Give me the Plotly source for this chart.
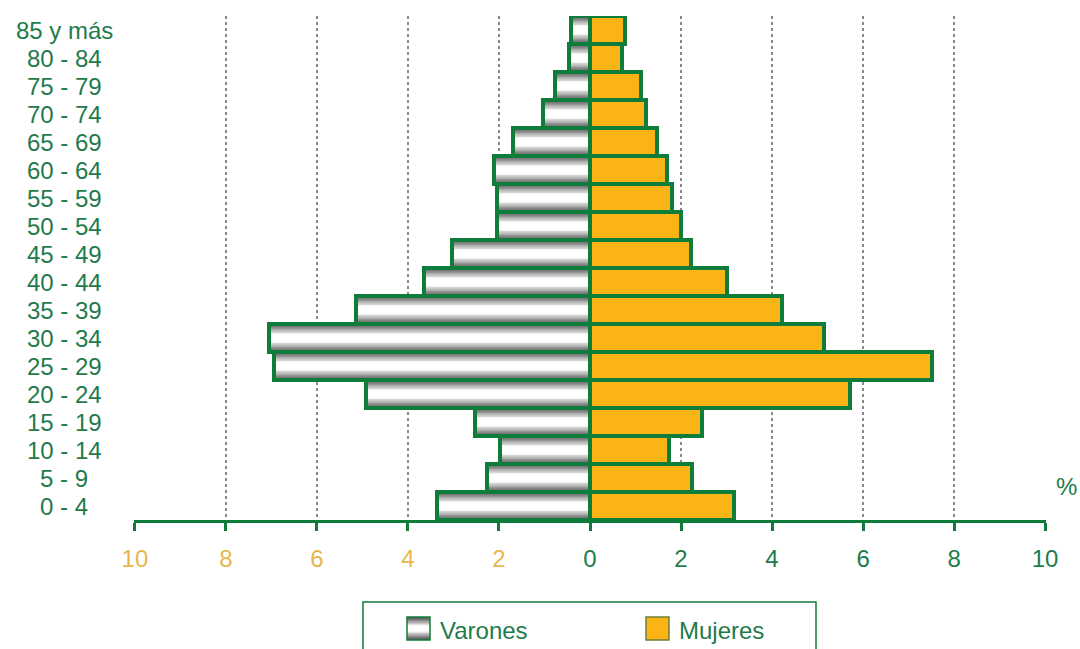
import plotly.graph_objects as go

# age groups, bottom to top
age_groups = ["0 - 4", "5 - 9", "10 - 14", "15 - 19", "20 - 24", "25 - 29",
              "30 - 34", "35 - 39", "40 - 44", "45 - 49", "50 - 54", "55 - 59",
              "60 - 64", "65 - 69", "70 - 74", "75 - 79", "80 - 84", "85 y más"]
varones = [3.36, 2.26, 1.97, 2.52, 4.93, 6.95, 7.06, 5.15, 3.64, 3.03,
           2.04, 2.04, 2.11, 1.70, 1.03, 0.76, 0.47, 0.42]
mujeres = [3.17, 2.24, 1.74, 2.47, 5.72, 7.52, 5.14, 4.22, 3.02, 2.21,
           2.00, 1.80, 1.70, 1.48, 1.24, 1.12, 0.71, 0.77]
x_ticks = [-10, -8, -6, -4, -2, 0, 2, 4, 6, 8, 10]

GREEN = "#0E7D3B"
TEXT_GREEN = "#1F7B4C"
ORANGE = "#FAB415"
GOLD = "#E8B64C"
FONT = "Liberation Sans, Arial, sans-serif"

# figure fills the window (body margin removed below)
W, H = 1080, 649
L, R, T, B = 134, 1046, 16, 520


def px_x(x):
    return (x - L) / (R - L)


def px_y(y):
    return (B - y) / (B - T)


fig = go.Figure()

# Varones: metallic look built from stacked, narrowing bars
n_layers = 14
for k in range(n_layers):
    f = k / (n_layers - 1)
    shade = int(90 + 165 * f ** 1.1)
    fig.add_trace(go.Bar(
        y=age_groups, x=[-v for v in varones], orientation="h",
        width=1.0 - 0.72 * f,
        marker=dict(color=f"rgb({shade},{shade},{shade})", line=dict(width=0)),
        showlegend=False, hoverinfo="skip",
    ))

# Varones outline
fig.add_trace(go.Bar(
    y=age_groups, x=[-v for v in varones], orientation="h", width=1.0,
    marker=dict(color="rgba(0,0,0,0)", line=dict(color=GREEN, width=4)),
    name="Varones", showlegend=False,
    customdata=varones, hovertemplate="%{y}: %{customdata}%<extra>Varones</extra>",
))

# Mujeres
fig.add_trace(go.Bar(
    y=age_groups, x=mujeres, orientation="h", width=1.0,
    marker=dict(color=ORANGE, line=dict(color=GREEN, width=4)),
    name="Mujeres", showlegend=False,
    hovertemplate="%{y}: %{x}%<extra>Mujeres</extra>",
))

# tick labels: left side gold, right side green
tick_text = []
for t in x_ticks:
    if t < 0:
        tick_text.append(f'<span style="color:{GOLD}">{abs(t)}</span>')
    else:
        tick_text.append(str(t))

# centred age labels
for g in age_groups:
    fig.add_annotation(x=px_x(64), xref="paper", y=g, yref="y", text=g,
                       showarrow=False, xanchor="center",
                       font=dict(size=24, color=TEXT_GREEN, family=FONT))

fig.add_annotation(x=px_x(1066), xref="paper", y=px_y(486), yref="paper",
                   text="%", showarrow=False, xanchor="center", yanchor="middle",
                   font=dict(size=24, color=TEXT_GREEN, family=FONT))

# legend box
fig.add_shape(type="rect", xref="paper", yref="paper",
              x0=px_x(363), x1=px_x(816), y0=px_y(602), y1=px_y(700),
              line=dict(color=GREEN, width=1.5), fillcolor="white", layer="below")
for k in range(7):
    f = k / 6
    shade = int(90 + 165 * f ** 1.1)
    h = 11.5 * (1 - 0.72 * f)
    fig.add_shape(type="rect", xref="paper", yref="paper",
                  x0=px_x(407), x1=px_x(430), y0=px_y(628.5 + h), y1=px_y(628.5 - h),
                  line=dict(width=0), fillcolor=f"rgb({shade},{shade},{shade})")
fig.add_shape(type="rect", xref="paper", yref="paper",
              x0=px_x(407), x1=px_x(430), y0=px_y(640), y1=px_y(617),
              line=dict(color=GREEN, width=1.5))
fig.add_shape(type="rect", xref="paper", yref="paper",
              x0=px_x(646), x1=px_x(669), y0=px_y(640), y1=px_y(617),
              line=dict(color="#6f7f3a", width=1.5), fillcolor=ORANGE)
fig.add_annotation(x=px_x(438), xref="paper", y=px_y(630), yref="paper",
                   text="Varones", showarrow=False, xanchor="left", yanchor="middle",
                   font=dict(size=24, color=TEXT_GREEN, family=FONT))
fig.add_annotation(x=px_x(677), xref="paper", y=px_y(630), yref="paper",
                   text="Mujeres", showarrow=False, xanchor="left", yanchor="middle",
                   font=dict(size=24, color=TEXT_GREEN, family=FONT))

fig.update_layout(
    width=W, height=H,
    barmode="overlay", bargap=0,
    plot_bgcolor="white", paper_bgcolor="white",
    margin=dict(l=L, r=W - R, t=T, b=H - B),
    font=dict(family=FONT, color=TEXT_GREEN),
    xaxis=dict(
        range=[-10.02, 10.02], tickvals=x_ticks, ticktext=tick_text,
        tickfont=dict(size=24, color=TEXT_GREEN),
        showline=True, linecolor=GREEN, linewidth=3,
        ticks="outside", ticklen=8, tickwidth=3, tickcolor=GREEN,
        ticklabelstandoff=7,
        showgrid=True, gridcolor="#8a8a8a", griddash="dot", gridwidth=1.8,
        zeroline=False, fixedrange=True,
    ),
    yaxis=dict(
        type="category", categoryorder="array", categoryarray=age_groups,
        range=[-0.5, 17.5], showticklabels=False, showgrid=False,
        showline=False, zeroline=False, ticks="", fixedrange=True,
    ),
)

fig.write_html("out.html", config={"displayModeBar": False},
               post_script="document.body.style.margin='0';document.body.style.overflow='hidden';")
